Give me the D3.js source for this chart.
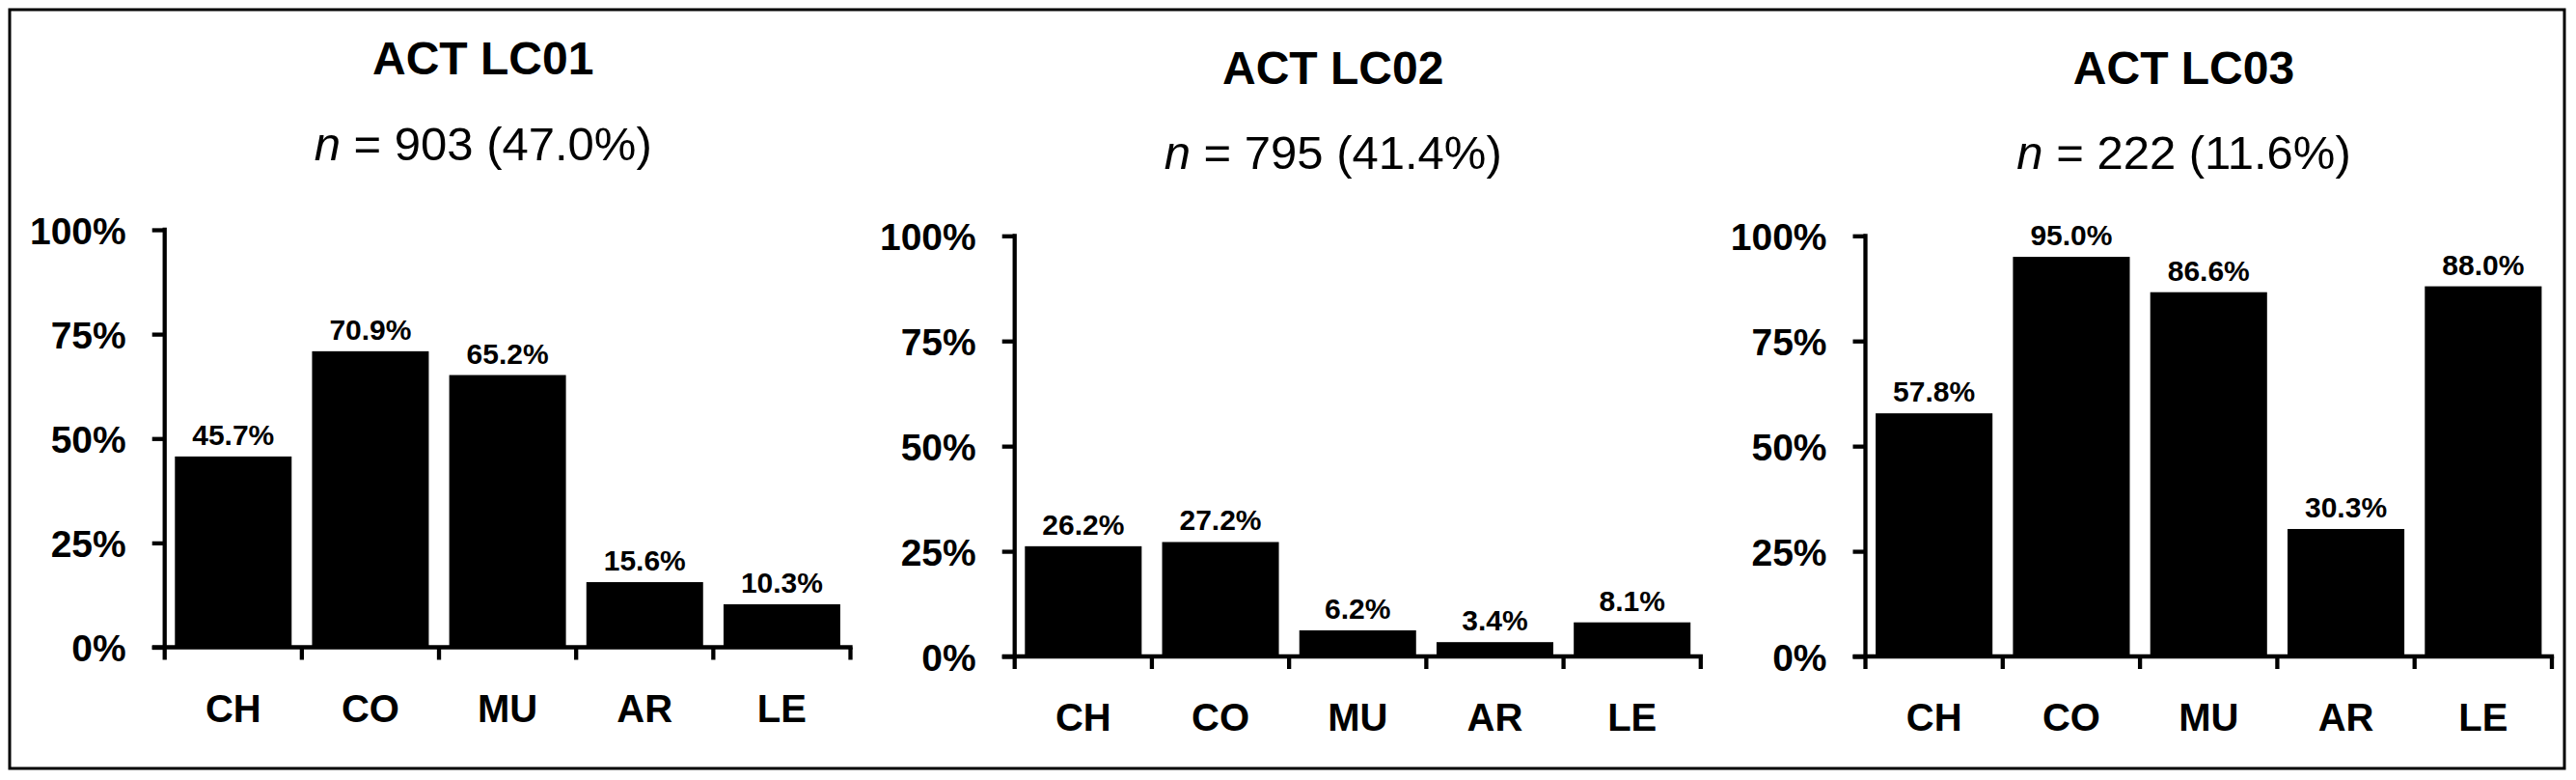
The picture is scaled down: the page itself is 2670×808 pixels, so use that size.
<!DOCTYPE html>
<html>
<head>
<meta charset="utf-8">
<script src="https://cdn.jsdelivr.net/npm/d3@7"></script>
<style>
  html, body { margin: 0; padding: 0; background: #fff; }
  svg { display: block; font-family: "Liberation Sans", Arial, Helvetica, sans-serif; }
</style>
</head>
<body>
<svg id="chart" width="2670" height="808"></svg>
<script>
// ---- data ----
const categories = ["CH", "CO", "MU", "AR", "LE"];
const panelTitles = ["ACT LC01", "ACT LC02", "ACT LC03"];
const panelN = [903, 795, 222];
const panelShare = ["47.0%", "41.4%", "11.6%"];
const valuesLC01 = [45.7, 70.9, 65.2, 15.6, 10.3];
const valuesLC02 = [26.2, 27.2, 6.2, 3.4, 8.1];
const valuesLC03 = [57.8, 95.0, 86.6, 30.3, 88.0];
const yTickValues = [0, 25, 50, 75, 100];
const yTickLabels = ["0%", "25%", "50%", "75%", "100%"];

const seriesValues = [valuesLC01, valuesLC02, valuesLC03];

// ---- layout (positions only) ----
const frames = [
  { x0: 170.7, x1: 881.5, yBottom: 670.5, yTop: 238, titleY: 77, subY: 166 },
  { x0: 1051.7, x1: 1762.8, yBottom: 680, yTop: 244.3, titleY: 87, subY: 175 },
  { x0: 1933.5, x1: 2645, yBottom: 680, yTop: 244.3, titleY: 87, subY: 175 }
];

const svg = d3.select("#chart");

// outer frame
svg.append("rect")
  .attr("x", 10).attr("y", 10)
  .attr("width", 2648).attr("height", 786)
  .attr("fill", "none").attr("stroke", "#000").attr("stroke-width", 3);

const lw = 4.3;

frames.forEach((f, i) => {
  const vals = seriesValues[i];
  const g = svg.append("g");

  const x = d3.scaleBand()
    .domain(categories)
    .range([f.x0, f.x1])
    .paddingInner(0.149)
    .paddingOuter(0.0745);

  const y = d3.scaleLinear().domain([0, 100]).range([f.yBottom, f.yTop]);

  // bars
  g.selectAll("rect.bar")
    .data(categories.map((c, k) => ({ c, v: vals[k] })))
    .join("rect")
    .attr("class", "bar")
    .attr("x", d => x(d.c))
    .attr("width", x.bandwidth())
    .attr("y", d => y(d.v))
    .attr("height", d => y(0) - y(d.v))
    .attr("fill", "#000");

  // value labels
  g.selectAll("text.val")
    .data(categories.map((c, k) => ({ c, v: vals[k] })))
    .join("text")
    .attr("class", "val")
    .attr("x", d => x(d.c) + x.bandwidth() / 2)
    .attr("y", d => y(d.v) - 12)
    .attr("text-anchor", "middle")
    .attr("font-size", 30)
    .attr("font-weight", "bold")
    .text(d => d.v.toFixed(1) + "%");

  // y axis
  const yAxis = d3.axisLeft(y)
    .tickValues(yTickValues)
    .tickFormat((d, k) => yTickLabels[k])
    .tickSize(13)
    .tickPadding(27)
    .tickSizeOuter(0);
  const ya = g.append("g").attr("transform", `translate(${f.x0},0)`).call(yAxis);
  ya.select(".domain").attr("stroke-width", lw).attr("stroke", "#000")
    .attr("d", `M0,${f.yTop - lw / 2}V${f.yBottom}`);
  ya.selectAll(".tick line").attr("stroke-width", lw).attr("stroke", "#000");
  ya.selectAll(".tick text")
    .attr("font-size", 39).attr("font-weight", "bold").attr("fill", "#000")
    .attr("font-family", "'Liberation Sans', Arial, sans-serif")
    .attr("dy", "0.36em");

  // x axis line with boundary ticks
  const boundaries = categories.map(c => x(c) - x.step() * x.paddingInner() / 2).concat([f.x1]);
  const xa = g.append("g");
  xa.append("line")
    .attr("x1", f.x0 - 13).attr("x2", f.x1 + lw / 2)
    .attr("y1", f.yBottom).attr("y2", f.yBottom)
    .attr("stroke", "#000").attr("stroke-width", lw);
  xa.selectAll("line.xt")
    .data(boundaries)
    .join("line")
    .attr("class", "xt")
    .attr("x1", d => d).attr("x2", d => d)
    .attr("y1", f.yBottom).attr("y2", f.yBottom + 13)
    .attr("stroke", "#000").attr("stroke-width", lw);

  // category labels
  xa.selectAll("text.cat")
    .data(categories)
    .join("text")
    .attr("class", "cat")
    .attr("x", d => x(d) + x.bandwidth() / 2)
    .attr("y", f.yBottom + 77)
    .attr("text-anchor", "middle")
    .attr("font-size", 40)
    .attr("font-weight", "bold")
    .text(d => d);

  // title
  const cx = f.x0 + 330;
  g.append("text")
    .attr("x", cx).attr("y", f.titleY)
    .attr("text-anchor", "middle")
    .attr("font-size", 48).attr("font-weight", "bold")
    .text(panelTitles[i]);

  const sub = g.append("text")
    .attr("x", cx).attr("y", f.subY)
    .attr("text-anchor", "middle")
    .attr("font-size", 49);
  sub.append("tspan").attr("font-style", "italic").text("n");
  sub.append("tspan").text(` = ${panelN[i]} (${panelShare[i]})`);
});
</script>
</body>
</html>
